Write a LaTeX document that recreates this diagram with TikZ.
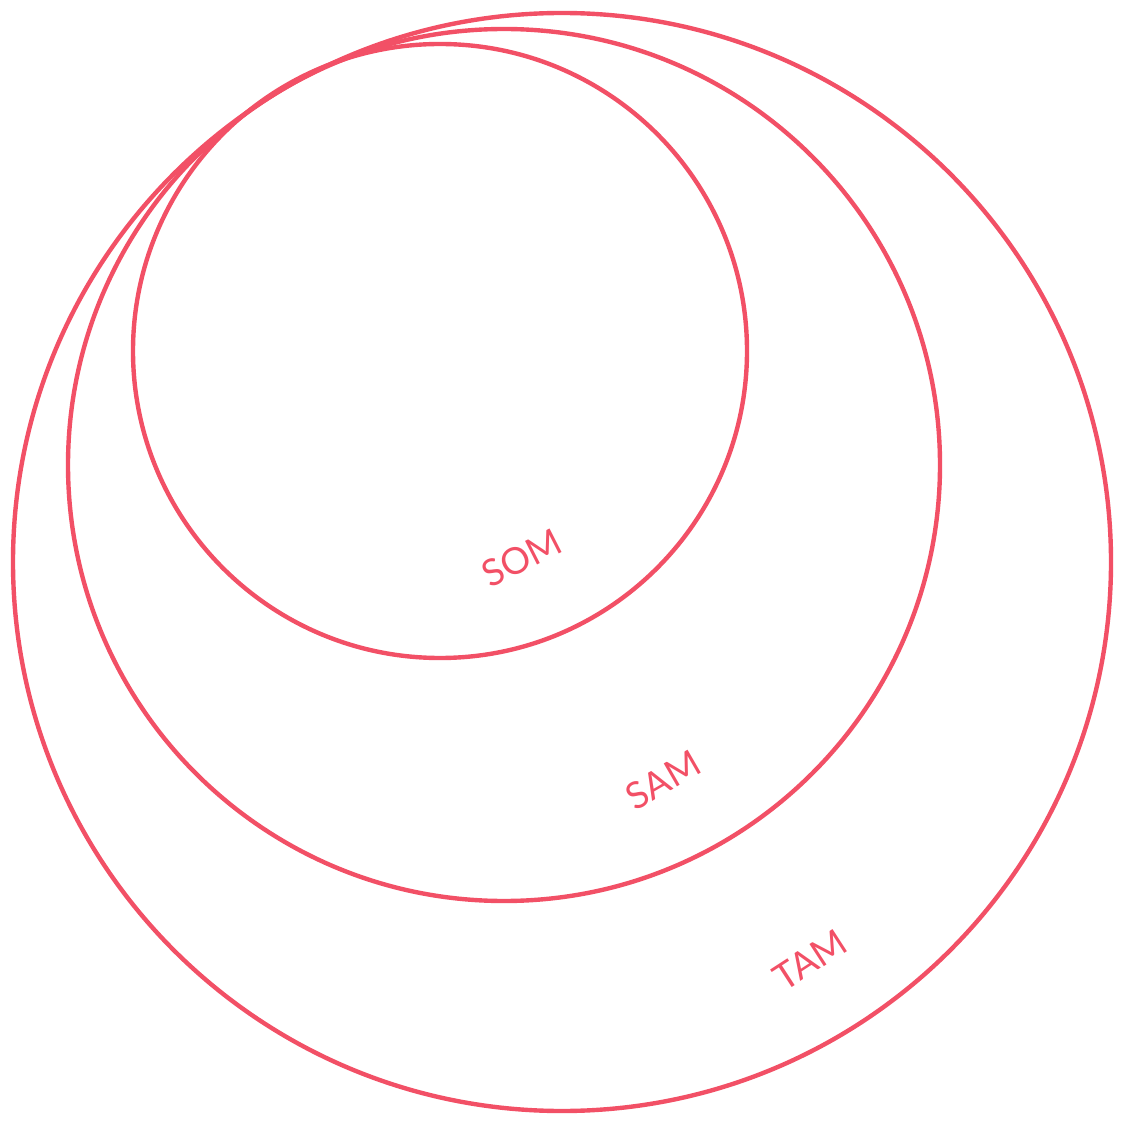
\documentclass[tikz,border=0pt]{standalone}
\usepackage{fontspec}
\setmainfont{Lato}
\definecolor{marketred}{RGB}{242,80,102}

\begin{document}
\begin{tikzpicture}[x=0.02cm, y=-0.02cm,
    every node/.style={font=\fontsize{21}{25}\selectfont, text=marketred},
    ring/.style={draw=marketred, line width=2.5pt}]
    \useasboundingbox (0,0) rectangle (1128,1124);

    % Market rings
    \draw[ring] (562,562) circle (549);
    \draw[ring] (504,465) circle (436);
    \draw[ring] (440,351) circle (307);

    % Labels
    \node[rotate=27] (som) at (522,558) {SOM};
    \node[rotate=30] (sam) at (663,780) {SAM};
    \node[rotate=33] (tam) at (810,960) {TAM};
\end{tikzpicture}
\end{document}
